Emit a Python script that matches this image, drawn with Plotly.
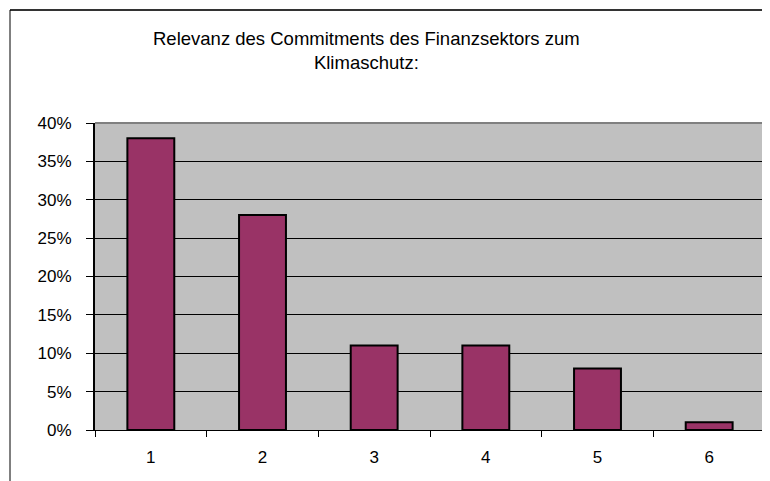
import plotly.graph_objects as go

categories = ["1", "2", "3", "4", "5", "6"]
values = [0.38, 0.28, 0.11, 0.11, 0.08, 0.01]
y_ticks = [0, 0.05, 0.10, 0.15, 0.20, 0.25, 0.30, 0.35, 0.40]
y_tick_labels = ["0%", "5%", "10%", "15%", "20%", "25%", "30%", "35%", "40%"]
title_text = "Relevanz des Commitments des Finanzsektors zum<br>Klimaschutz:"

OFF = 8  # page body margin
W, H = 770 - OFF, 481 - OFF
L, T = 95 - OFF, 123 - OFF
R = W - (765 - OFF)
B = H - (430 - OFF)
pw, ph = W - L - R, H - T - B

def px_x(x):
    return (x - OFF - L) / pw

def px_y(y):
    return (H - B - (y - OFF)) / ph

fig = go.Figure()
fig.add_trace(go.Bar(
    x=categories, y=values,
    marker=dict(color="#993366", line=dict(color="black", width=2)),
    width=0.42,
))

font = dict(family="Liberation Sans, Arial, sans-serif", size=17, color="black")
title_font = dict(family="Liberation Sans, Arial, sans-serif", size=18.5, color="black")

fig.update_layout(
    width=W, height=H,
    margin=dict(l=L, r=R, t=T, b=B, pad=0),
    paper_bgcolor="white",
    plot_bgcolor="#C0C0C0",
    showlegend=False,
    font=font,
    xaxis=dict(
        type="category", showline=True, linecolor="black", linewidth=1,
        ticks="outside", tickson="boundaries", ticklen=6, tickcolor="black",
        showgrid=False, tickfont=font, range=[-0.5, 5.5],
        ticklabelstandoff=12,
    ),
    yaxis=dict(
        range=[0, 0.4], tickvals=y_ticks, ticktext=y_tick_labels,
        showline=True, linecolor="black", linewidth=2,
        ticks="outside", ticklen=7, tickcolor="black",
        showgrid=True, gridcolor="black", gridwidth=1, zeroline=False,
        tickfont=font, ticklabelstandoff=11,
    ),
    annotations=[dict(
        text=title_text, xref="paper", yref="paper",
        x=px_x(366), y=px_y(51), xanchor="center", yanchor="middle",
        showarrow=False, align="center", font=title_font,
    )],
    shapes=[
        dict(type="line", xref="paper", yref="paper", x0=0, x1=1, y0=1, y1=1,
             line=dict(color="#808080", width=2)),
        dict(type="line", xref="paper", yref="paper", x0=1, x1=1, y0=0, y1=1,
             line=dict(color="#808080", width=2)),
        dict(type="line", xref="paper", yref="paper", x0=px_x(10), x1=px_x(775),
             y0=px_y(10), y1=px_y(10), line=dict(color="#333333", width=2)),
        dict(type="line", xref="paper", yref="paper", x0=px_x(10), x1=px_x(10),
             y0=px_y(10), y1=px_y(490), line=dict(color="black", width=1)),
    ],
)

fig.write_html("out.html")
